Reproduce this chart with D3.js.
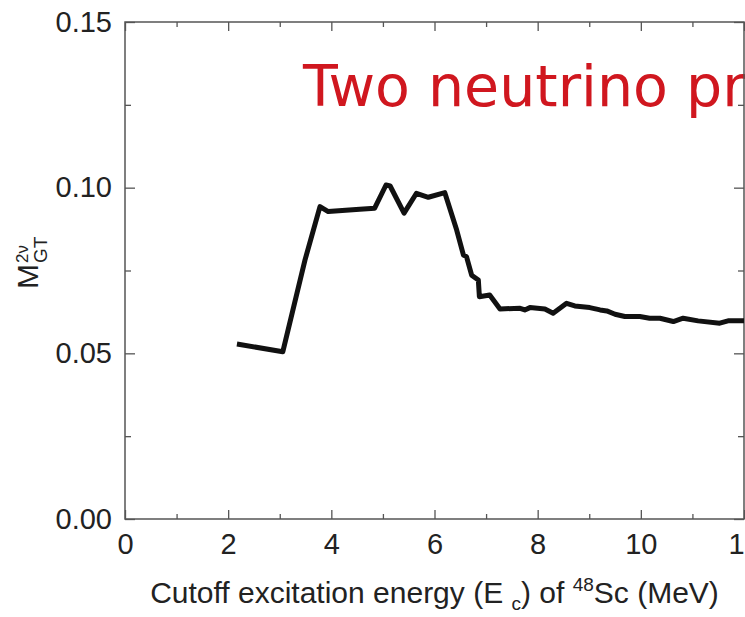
<!DOCTYPE html>
<html>
<head>
<meta charset="utf-8">
<script src="https://cdn.jsdelivr.net/npm/d3@7"></script>
<style>
  body { margin: 0; background: #fff; }
  svg { display: block; }
</style>
</head>
<body>
<div id="chart"></div>
<script>
// cutoff excitation energy (MeV) and M_GT(2v)
const energy = [2.17, 3.06, 3.49, 3.78, 3.94, 4.55, 4.84, 5.06, 5.14, 5.41, 5.65, 5.88, 6.20, 6.43,
  6.56, 6.62, 6.72, 6.85, 6.87, 7.07, 7.27, 7.66, 7.75, 7.85, 8.14, 8.30, 8.56, 8.72, 9.01, 9.21,
  9.34, 9.50, 9.69, 9.98, 10.17, 10.37, 10.63, 10.82, 11.11, 11.53, 11.69, 12.0];
const mgt = [0.0528, 0.0505, 0.0782, 0.0943, 0.0928, 0.0935, 0.0938, 0.1008, 0.1005, 0.0923, 0.0983, 0.0971, 0.0985, 0.0872,
  0.0797, 0.0792, 0.0736, 0.0721, 0.0671, 0.0676, 0.0634, 0.0636, 0.0631, 0.0638, 0.0634, 0.0621, 0.0651, 0.0643, 0.0638, 0.0631,
  0.0628, 0.0618, 0.0611, 0.0611, 0.0606, 0.0606, 0.0596, 0.0606, 0.0598, 0.0591, 0.0598, 0.0598];

const xMajor = [0, 2, 4, 6, 8, 10, 12];
const xMinor = [1, 3, 5, 7, 9, 11];
const yMajor = [0, 0.05, 0.10, 0.15];
const yMinor = [0.025, 0.075, 0.125];

const width = 745, height = 617;
const margin = { top: 22, right: 1, bottom: 98, left: 125 };
const innerW = width - margin.left - margin.right;
const innerH = height - margin.top - margin.bottom;
const axisColor = '#555';
const font = '"Liberation Sans", Arial, sans-serif';

const svg = d3.select('#chart').append('svg')
  .attr('width', width)
  .attr('height', height);

const x = d3.scaleLinear().domain([0, 12]).range([0, innerW]);
const y = d3.scaleLinear().domain([0, 0.15]).range([innerH, 0]);

const g = svg.append('g').attr('transform', `translate(${margin.left},${margin.top})`);

// title text, partly off the page like the original
g.append('text')
  .attr('x', 178)
  .attr('y', 84)
  .style('font-family', '"DejaVu Sans", Verdana, sans-serif')
  .style('font-size', '57px')
  .style('fill', '#d0171f')
  .text('Two neutrino process');

const styleAxis = (sel) => {
  sel.select('.domain').remove();
  sel.selectAll('line').attr('stroke', axisColor).attr('stroke-width', 1.3);
  sel.selectAll('text')
    .style('font-family', font)
    .style('font-size', '29px')
    .style('fill', '#222');
};

g.append('g').attr('transform', `translate(0,${innerH})`)
  .call(d3.axisBottom(x).tickValues(xMajor).tickFormat(d3.format('d')).tickSizeInner(-9).tickSizeOuter(0).tickPadding(14))
  .call(styleAxis);
g.append('g').attr('transform', `translate(0,${innerH})`)
  .call(d3.axisBottom(x).tickValues(xMinor).tickFormat('').tickSizeInner(-5).tickSizeOuter(0))
  .call(styleAxis);
g.append('g')
  .call(d3.axisTop(x).tickValues(xMajor).tickFormat('').tickSizeInner(-9).tickSizeOuter(0))
  .call(styleAxis);
g.append('g')
  .call(d3.axisTop(x).tickValues(xMinor).tickFormat('').tickSizeInner(-5).tickSizeOuter(0))
  .call(styleAxis);

g.append('g')
  .call(d3.axisLeft(y).tickValues(yMajor).tickFormat(d3.format('.2f')).tickSizeInner(-10).tickSizeOuter(0).tickPadding(13))
  .call(styleAxis);
g.append('g')
  .call(d3.axisLeft(y).tickValues(yMinor).tickFormat('').tickSizeInner(-6).tickSizeOuter(0))
  .call(styleAxis);
g.append('g').attr('transform', `translate(${innerW},0)`)
  .call(d3.axisRight(y).tickValues(yMajor).tickFormat('').tickSizeInner(-10).tickSizeOuter(0))
  .call(styleAxis);
g.append('g').attr('transform', `translate(${innerW},0)`)
  .call(d3.axisRight(y).tickValues(yMinor).tickFormat('').tickSizeInner(-6).tickSizeOuter(0))
  .call(styleAxis);

// frame
g.append('rect')
  .attr('width', innerW)
  .attr('height', innerH)
  .attr('fill', 'none')
  .attr('stroke', axisColor)
  .attr('stroke-width', 1.5);

// the curve
const pts = energy.map((e, i) => [e, mgt[i]]);
g.append('path')
  .datum(pts)
  .attr('fill', 'none')
  .attr('stroke', '#111')
  .attr('stroke-width', 5)
  .attr('stroke-linejoin', 'round')
  .attr('d', d3.line().x(d => x(d[0])).y(d => y(d[1])));

// axis titles
const xl = g.append('text')
  .attr('x', innerW / 2)
  .attr('y', innerH + 84)
  .attr('text-anchor', 'middle')
  .style('font-family', font)
  .style('font-size', '30px')
  .style('fill', '#222');
xl.append('tspan').text('Cutoff excitation energy (E ');
xl.append('tspan').attr('dy', 7).style('font-size', '19px').text('c');
xl.append('tspan').attr('dy', -7).text(') of ');
xl.append('tspan').attr('dy', -12).style('font-size', '19px').text('48');
xl.append('tspan').attr('dy', 12).text('Sc (MeV)');

const yl = svg.append('g')
  .attr('transform', 'translate(38,289) rotate(-90)')
  .style('font-family', font)
  .style('fill', '#222');
yl.append('text').attr('x', 0).attr('y', 0).style('font-size', '30px').text('M');
yl.append('text').attr('x', 26).attr('y', -10).style('font-size', '17px').text('2ν');
yl.append('text').attr('x', 26).attr('y', 9).style('font-size', '19px').text('GT');
</script>
</body>
</html>
